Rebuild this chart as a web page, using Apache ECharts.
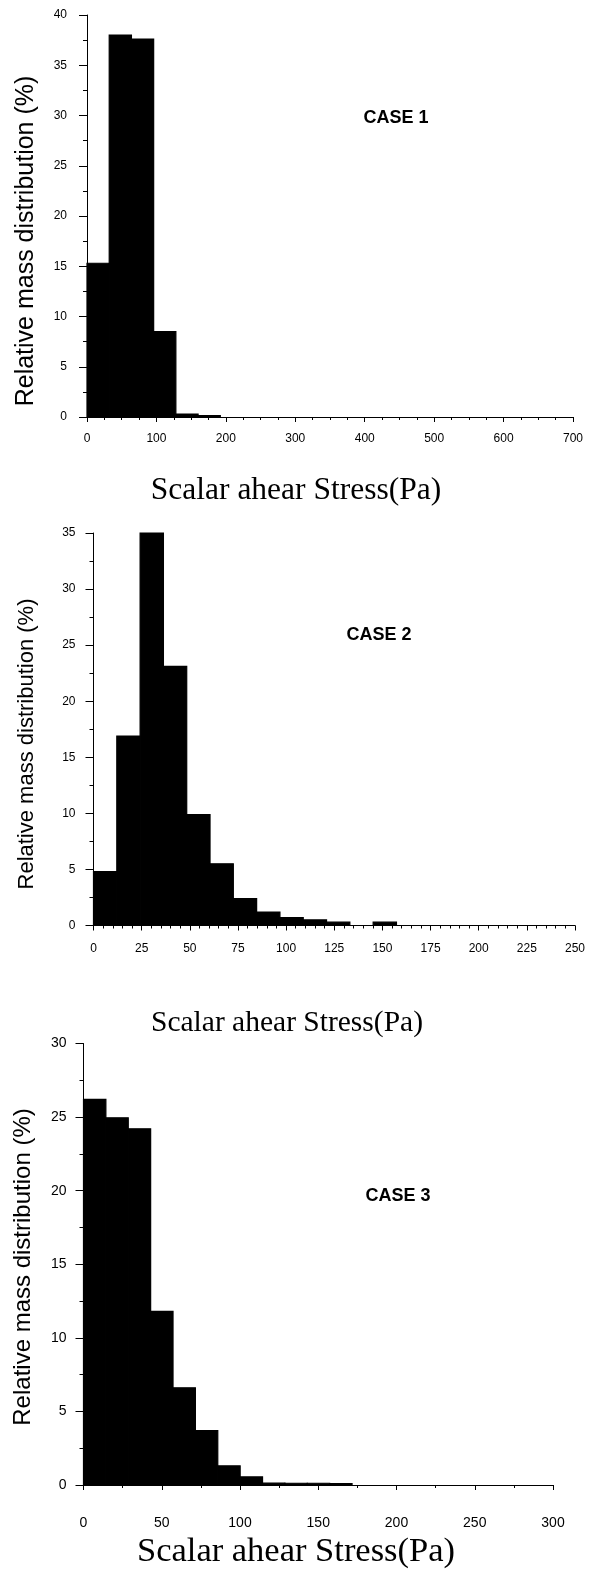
<!DOCTYPE html>
<html>
<head>
<meta charset="utf-8">
<script src="https://cdn.jsdelivr.net/npm/echarts@6/dist/echarts.min.js"></script>
<style>
  html, body { margin: 0; padding: 0; background: #fff; }
  #chart { width: 596px; height: 1575px; }
</style>
</head>
<body>
<div id="chart"></div>
<script>
// bin widths (Pa) and relative mass per bin (%)
const binWidth1 = 32;
const values1 = [15.3, 38.0, 37.6, 8.5, 0.3, 0.15];
const binWidth2 = 12.1;
const values2 = [4.8, 16.9, 35.0, 23.1, 9.9, 5.5, 2.4, 1.2, 0.7, 0.5, 0.3, 0, 0.3];
const binWidth3 = 14.3;
const values3 = [26.2, 24.95, 24.2, 11.8, 6.6, 3.7, 1.3, 0.55, 0.13, 0.12, 0.12, 0.1];

const caseLabels = ['CASE 1', 'CASE 2', 'CASE 3'];
const xTitle = 'Scalar ahear Stress(Pa)';
const yTitle = 'Relative mass distribution (%)';

function toBins(values, w) {
  return values.map((v, i) => [i * w, (i + 1) * w, v]);
}

// one filled rect per bin, from the bin's left edge to its right edge
function renderBar(params, api) {
  if (api.value(2) <= 0) return null;
  const top = api.coord([api.value(0), api.value(2)]);
  const bottom = api.coord([api.value(1), 0]);
  return {
    type: 'rect',
    shape: { x: top[0], y: top[1], width: bottom[0] - top[0], height: bottom[1] - top[1] },
    style: { fill: '#000', stroke: '#000', lineWidth: 1.2 }
  };
}

function xAxisOf(idx, max, interval, minorSplit, label) {
  return {
    type: 'value', gridIndex: idx, min: 0, max: max, interval: interval,
    axisLine: { show: true, lineStyle: { color: '#000', width: 1 } },
    axisTick: { show: true, length: 5, lineStyle: { color: '#000' } },
    minorTick: { show: true, splitNumber: minorSplit, length: 3, lineStyle: { color: '#000' } },
    splitLine: { show: false },
    axisLabel: Object.assign({ color: '#000', fontFamily: 'Liberation Sans, Arial, sans-serif' }, label)
  };
}

function yAxisOf(idx, max, label) {
  return {
    type: 'value', gridIndex: idx, min: 0, max: max, interval: 5,
    axisLine: { show: true, lineStyle: { color: '#000', width: 1 } },
    axisTick: { show: true, length: 8, lineStyle: { color: '#000' } },
    minorTick: { show: true, splitNumber: 2, length: 4, lineStyle: { color: '#000' } },
    splitLine: { show: false },
    axisLabel: Object.assign({ color: '#000', fontFamily: 'Liberation Sans, Arial, sans-serif' }, label)
  };
}

function yName(x, y, size) {
  return {
    type: 'text', x: x, y: y, rotation: Math.PI / 2,
    style: {
      text: yTitle, fill: '#000', fontSize: size,
      fontFamily: 'Liberation Sans, Arial, sans-serif',
      align: 'center', verticalAlign: 'middle'
    }
  };
}

function xName(x, y, size) {
  return {
    type: 'text', x: x, y: y,
    style: {
      text: xTitle, fill: '#000', fontSize: size,
      fontFamily: 'Liberation Serif, Times New Roman, serif',
      align: 'center', verticalAlign: 'middle'
    }
  };
}

function caseText(x, y, text) {
  return {
    type: 'text', x: x, y: y,
    style: {
      text: text, fill: '#000', fontSize: 18, fontWeight: 'bold',
      fontFamily: 'Liberation Sans, Arial, sans-serif',
      align: 'center', verticalAlign: 'middle'
    }
  };
}

const chart = echarts.init(document.getElementById('chart'));

chart.setOption({
  animation: false,
  backgroundColor: '#fff',
  grid: [
    { left: 87, top: 15, width: 486, height: 402 },
    { left: 93.5, top: 533, width: 481.5, height: 392.5 },
    { left: 83.5, top: 1043.5, width: 469.5, height: 441.5 }
  ],
  xAxis: [
    xAxisOf(0, 700, 100, 4, { fontSize: 12, margin: 16 }),
    xAxisOf(1, 250, 25, 5, { fontSize: 12, margin: 17 }),
    xAxisOf(2, 300, 50, 2, { fontSize: 14, margin: 31, fontFamily: 'Liberation Sans Narrow, Liberation Sans, Arial, sans-serif' })
  ],
  yAxis: [
    yAxisOf(0, 40, { fontSize: 12, margin: 20 }),
    yAxisOf(1, 35, { fontSize: 12, margin: 18 }),
    yAxisOf(2, 30, { fontSize: 14, margin: 17, fontFamily: 'Liberation Sans Narrow, Liberation Sans, Arial, sans-serif' })
  ],
  graphic: [
    yName(26, 241, 25),
    yName(27, 744, 22),
    yName(23, 1267, 24),
    xName(296, 491, 31.5),
    xName(287, 1023, 29.5),
    xName(296, 1552, 34.5),
    caseText(396, 118, caseLabels[0]),
    caseText(379, 635, caseLabels[1]),
    caseText(398, 1196, caseLabels[2])
  ],
  series: [
    { type: 'custom', xAxisIndex: 0, yAxisIndex: 0, renderItem: renderBar, encode: { x: [0, 1], y: 2 }, data: toBins(values1, binWidth1) },
    { type: 'custom', xAxisIndex: 1, yAxisIndex: 1, renderItem: renderBar, encode: { x: [0, 1], y: 2 }, data: toBins(values2, binWidth2) },
    { type: 'custom', xAxisIndex: 2, yAxisIndex: 2, renderItem: renderBar, encode: { x: [0, 1], y: 2 }, data: toBins(values3, binWidth3) }
  ]
});
</script>
</body>
</html>
